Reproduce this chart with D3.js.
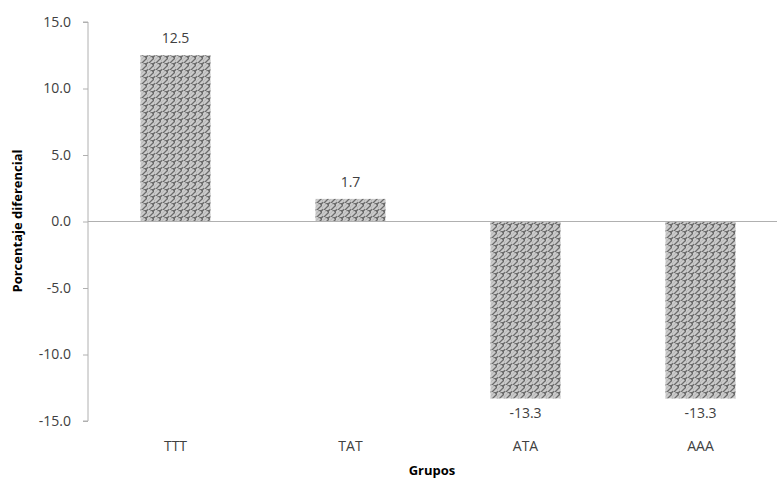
<!DOCTYPE html>
<html>
<head>
<meta charset="utf-8">
<script src="https://d3js.org/d3.v7.min.js"></script>
<style>
body{margin:0;background:#fff;}
text{font-family:"Open Sans","DejaVu Sans",sans-serif;}
</style>
</head>
<body>
<svg id="svg" width="777" height="479"></svg>
<script>
var categories = ["TTT","TAT","ATA","AAA"];
var values = [12.5, 1.7, -13.3, -13.3];
var tickValues = [-15,-10,-5,0,5,10,15];

var svg = d3.select("#svg");
var axisX = 88, bandEnd = 788;

// weave-like fill for the bars
var defs = svg.append("defs");
var pat = defs.append("pattern")
    .attr("id","weave")
    .attr("patternUnits","userSpaceOnUse")
    .attr("width",7).attr("height",7);
pat.append("rect").attr("width",7).attr("height",7).attr("fill","#6a6a6a");
pat.append("path")
    .attr("d","M0.5,6 L5,1.5 M4,7.5 L7.5,4 M-0.5,3.5 L3,0")
    .attr("stroke","#cbcbcb").attr("stroke-width",2.4)
    .attr("stroke-linecap","butt");

var y = d3.scaleLinear().domain([-15,15]).range([421,22]);
var x = d3.scaleBand().domain(categories).range([axisX,bandEnd]).paddingInner(0.6).paddingOuter(0.3);

// y axis
var yAxis = svg.append("g")
    .attr("transform","translate("+axisX+",0)")
    .call(d3.axisLeft(y).tickValues(tickValues).tickSize(5).tickFormat(d3.format(".1f")));
yAxis.selectAll("path,line").attr("stroke","#b0b0b0");
yAxis.select(".domain").attr("d","M-5,"+y(15)+"H0V"+y(-15)+"H-5");
yAxis.selectAll("text")
    .attr("font-size",14).attr("fill","#404040")
    .attr("x",-17)
    .text(function(d){return d3.format(".1f")(d).replace("−","-");});

// bars
svg.selectAll("rect.bar")
    .data(values)
    .enter()
    .append("rect")
    .attr("class","bar")
    .attr("x",function(d,i){return x(categories[i]);})
    .attr("width",x.bandwidth())
    .attr("y",function(d){return d>=0 ? y(d) : y(0);})
    .attr("height",function(d){return Math.abs(y(d)-y(0));})
    .attr("fill","url(#weave)");

// zero line
svg.append("line")
    .attr("x1",axisX).attr("x2",777)
    .attr("y1",y(0)).attr("y2",y(0))
    .attr("stroke","#b0b0b0").attr("stroke-width",1);

// value labels
svg.selectAll("text.val")
    .data(values)
    .enter()
    .append("text")
    .attr("class","val")
    .attr("x",function(d,i){return x(categories[i])+x.bandwidth()/2;})
    .attr("y",function(d){return d>=0 ? y(d)-12 : y(d)+20;})
    .attr("text-anchor","middle")
    .attr("font-size",14).attr("fill","#404040")
    .text(function(d){return d3.format(".1f")(d).replace("−","-");});

// category labels
svg.selectAll("text.cat")
    .data(categories)
    .enter()
    .append("text")
    .attr("class","cat")
    .attr("x",function(d){return x(d)+x.bandwidth()/2;})
    .attr("y",451)
    .attr("text-anchor","middle")
    .attr("font-size",14).attr("fill","#404040")
    .text(function(d){return d;});

// axis titles
svg.append("text")
    .attr("x",432).attr("y",475)
    .attr("text-anchor","middle")
    .attr("font-size",13).attr("font-weight","bold").attr("fill","#000")
    .text("Grupos");
svg.append("text")
    .attr("transform","translate(22,221) rotate(-90)")
    .attr("text-anchor","middle")
    .attr("font-size",13).attr("font-weight","bold").attr("fill","#000")
    .text("Porcentaje diferencial");
</script>
</body>
</html>
